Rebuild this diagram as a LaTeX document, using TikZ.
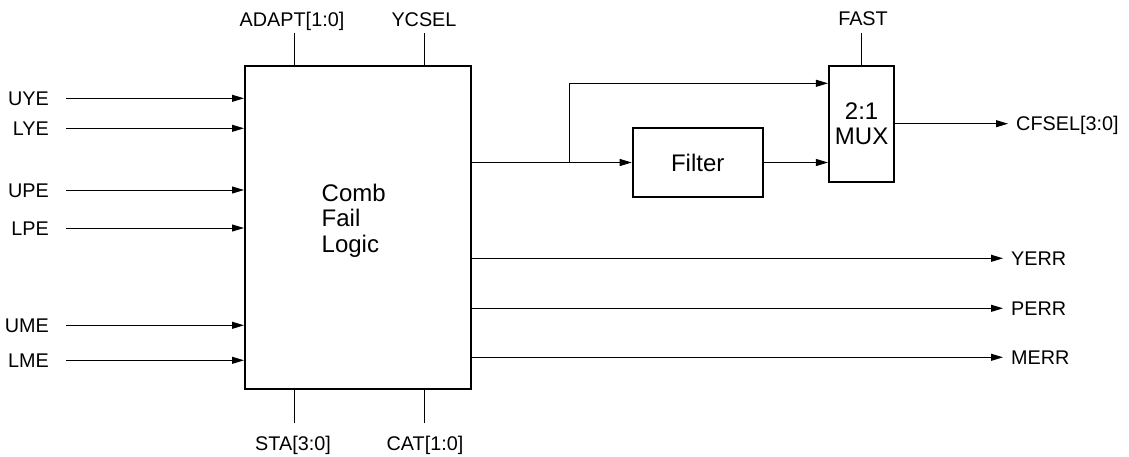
\documentclass[tikz,border=0pt]{standalone}
\usepackage{fontspec}
\setmainfont{Liberation Sans}
\usetikzlibrary{arrows.meta}
\begin{document}
\begin{tikzpicture}[x=1pt,y=-1pt,
  blk/.style={draw, line width=2pt, inner sep=0pt},
  wire/.style={line width=1pt},
  arr/.style={wire, -{Triangle[length=12pt,width=7pt]}},
  lab/.style={font=\fontsize{19.8}{22}\selectfont, inner sep=0pt},
  big/.style={font=\fontsize{24}{25.5}\selectfont, align=center}]
\useasboundingbox (0,0) rectangle (1129,456);
% blocks
\node[blk, minimum width=226pt, minimum height=323pt] (main) at (358,227.5) {};
\node[big, align=left, anchor=north west, inner sep=0pt] (ctext) at (321.5,183.5) {Comb\\Fail\\Logic};
\node[blk, big, minimum width=130pt, minimum height=68.4pt] (filt) at (697.7,162.5) {Filter};
\node[blk, big, minimum width=65.3pt, minimum height=116pt] (mux) at (861.6,123.7) {2:1\\MUX};
% inputs
\foreach \n/\y in {UYE/98.3,LYE/128.3,UPE/190,LPE/228,UME/325.3,LME/360.3}{
  \node[lab, anchor=base east] (\n L) at (49,\y+7) {\n};
  \coordinate (\n S) at (66,\y);
  \draw[arr] (\n S) -- (\n S -| main.west);
}
% top and bottom signals
\node[lab, anchor=base] (adaptL) at (292,26.7) {ADAPT[1:0]};
\node[lab, anchor=base] (ycselL) at (424,26.7) {YCSEL};
\coordinate (adaptS) at (294,33);
\coordinate (ycselS) at (424,33);
\draw[wire] (adaptS) -- (adaptS |- main.north);
\draw[wire] (ycselS) -- (ycselS |- main.north);
\node[lab, anchor=base] (staL) at (293,450) {STA[3:0]};
\node[lab, anchor=base] (catL) at (425,450) {CAT[1:0]};
\coordinate (staS) at (294,423);
\coordinate (catS) at (424,423);
\draw[wire] (staS) -- (staS |- main.south);
\draw[wire] (catS) -- (catS |- main.south);
\node[lab, anchor=base] (fastL) at (863,25.7) {FAST};
\coordinate (fastS) at (861,33);
\draw[wire] (fastS) -- (fastS |- mux.north);
% filter path
\coordinate (br) at (569.3,162.5);
\draw[arr] (main.east |- filt.west) -- (filt.west);
\draw[arr] (br) |- ([yshift=40.4pt]mux.west);
\draw[arr] (filt.east) -- (filt.east -| mux.west);
% outputs
\coordinate (cfselT) at (1008,123.7);
\draw[arr] (mux.east) -- (cfselT);
\node[lab, anchor=base west] (cfselL) at (1016,130.7) {CFSEL[3:0]};
\foreach \n/\y in {YERR/258.3,PERR/308.3,MERR/357.3}{
  \coordinate (\n T) at (1003,\y);
  \draw[arr] (\n T -| main.east) -- (\n T);
  \node[lab, anchor=base west] (\n L) at (1011,\y+7) {\n};
}
\end{tikzpicture}
\end{document}
